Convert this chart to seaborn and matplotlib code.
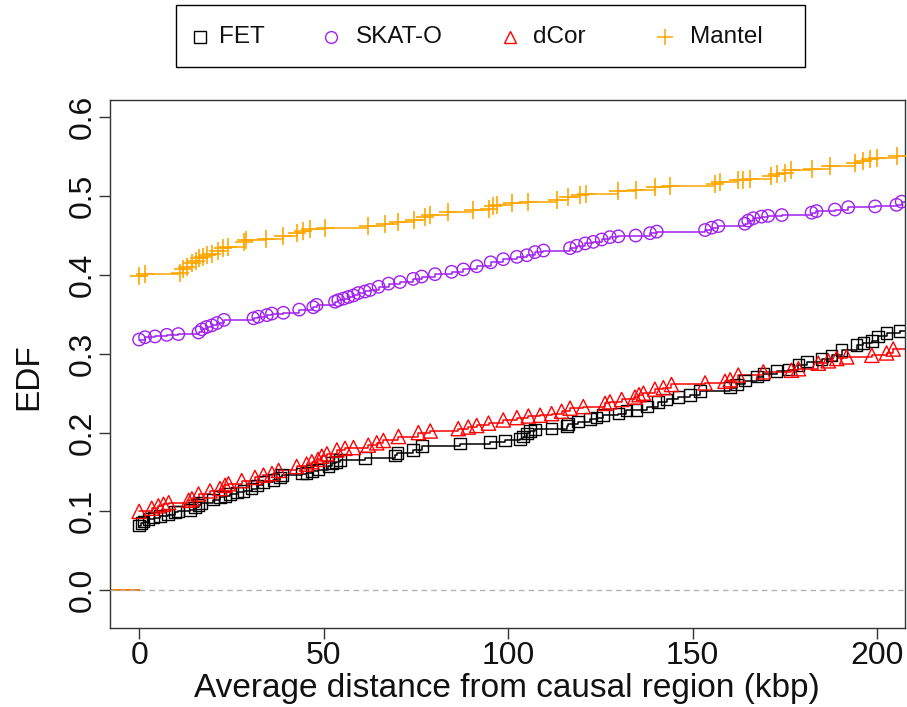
import numpy as np
import pandas as pd
import matplotlib
matplotlib.use("Agg")
import matplotlib.pyplot as plt
from matplotlib.lines import Line2D
from matplotlib.patches import Rectangle
import seaborn as sns

# ---------------- data ----------------
methods = ["FET", "SKAT-O", "dCor", "Mantel"]
colors = ["#000000", "#A020F0", "#FF0000", "#FFA500"]
markers = ["s", "o", "^", "+"]

fet_x = [0.0, 0.6, 1.2, 2.5, 3.9, 5.7, 7.9, 9.8, 10.5, 13.8, 15.2, 16.1, 16.8, 20.1, 21.9, 23.3,
         24.7, 26.5, 28.3, 30.5, 31.9, 33.7, 36.4, 38.2, 38.7, 44.1, 45.4, 46.8, 48.6, 51.3, 52.2,
         53.3, 54.5, 61.2, 69.4, 70.0, 74.3, 76.6, 87.0, 95.1, 99.2, 103.3, 104.1, 105.1, 106.0,
         107.3, 111.8, 115.9, 116.3, 119.0, 122.2, 124.0, 125.8, 129.9, 132.1, 134.8, 137.6, 140.7,
         143.0, 146.2, 149.3, 152.0, 160.2, 162.0, 164.2, 167.4, 169.2, 172.8, 176.0, 178.7, 181.0,
         185.0, 187.7, 190.4, 194.5, 196.3, 198.6, 200.3, 202.6, 206.2]
fet_y = [0.082, 0.085, 0.087, 0.090, 0.092, 0.094, 0.096, 0.099, 0.100, 0.102, 0.105, 0.108, 0.111,
         0.115, 0.118, 0.119, 0.122, 0.124, 0.126, 0.129, 0.133, 0.137, 0.140, 0.143, 0.146, 0.148,
         0.149, 0.151, 0.153, 0.157, 0.161, 0.163, 0.165, 0.168, 0.171, 0.174, 0.178, 0.183, 0.186,
         0.188, 0.190, 0.192, 0.195, 0.199, 0.202, 0.204, 0.205, 0.208, 0.211, 0.214, 0.217, 0.219,
         0.222, 0.224, 0.228, 0.229, 0.233, 0.239, 0.242, 0.245, 0.248, 0.253, 0.257, 0.261, 0.266,
         0.271, 0.274, 0.278, 0.280, 0.286, 0.290, 0.293, 0.298, 0.305, 0.311, 0.314, 0.316, 0.322,
         0.326, 0.329]

skat_x = [0.0, 1.6, 4.3, 7.5, 10.6, 16.1, 17.0, 18.3, 19.7, 21.1, 23.0, 31.0, 32.3, 34.6, 36.0, 39.1,
          43.4, 47.2, 48.1, 53.1, 54.0, 55.4, 56.7, 58.1, 59.4, 61.2, 62.6, 64.9, 67.6, 70.7, 74.3,
          76.6, 80.2, 84.7, 87.9, 91.5, 95.3, 98.7, 102.4, 105.1, 107.3, 109.6, 116.8, 118.6, 120.9,
          123.1, 125.4, 127.6, 129.9, 134.6, 138.5, 140.3, 153.4, 155.2, 157.0, 164.2, 165.1, 166.5,
          168.7, 170.5, 174.2, 182.3, 183.6, 188.6, 192.2, 199.5, 205.3, 206.7]
skat_y = [0.318, 0.321, 0.322, 0.324, 0.325, 0.327, 0.331, 0.334, 0.336, 0.339, 0.343, 0.345, 0.347,
          0.349, 0.351, 0.352, 0.356, 0.359, 0.362, 0.366, 0.368, 0.370, 0.372, 0.374, 0.377, 0.379,
          0.381, 0.385, 0.389, 0.391, 0.395, 0.398, 0.401, 0.404, 0.407, 0.411, 0.416, 0.420, 0.423,
          0.425, 0.429, 0.431, 0.434, 0.437, 0.440, 0.442, 0.445, 0.448, 0.449, 0.450, 0.453, 0.455,
          0.457, 0.460, 0.462, 0.465, 0.469, 0.472, 0.474, 0.475, 0.476, 0.479, 0.481, 0.483, 0.486,
          0.487, 0.489, 0.493]

dcor_x = [0.0, 3.4, 5.2, 6.6, 8.0, 13.4, 14.3, 16.1, 19.2, 21.9, 23.3, 24.2, 27.8, 31.4, 33.7, 36.0,
          37.8, 42.7, 45.4, 46.8, 48.5, 49.5, 50.9, 53.6, 55.8, 58.1, 62.1, 64.4, 66.2, 70.3, 75.7,
          78.9, 86.5, 89.2, 91.5, 94.7, 98.7, 102.4, 105.5, 108.7, 111.8, 114.5, 116.8, 120.4, 126.3,
          127.6, 130.8, 134.4, 135.5, 136.7, 139.8, 142.1, 144.3, 153.4, 158.8, 160.2, 162.4, 169.2,
          176.8, 178.7, 184.1, 186.8, 189.1, 191.8, 198.6, 202.6, 204.4]
dcor_y = [0.100, 0.104, 0.107, 0.109, 0.111, 0.114, 0.116, 0.122, 0.126, 0.129, 0.133, 0.135, 0.139,
          0.143, 0.146, 0.148, 0.152, 0.157, 0.160, 0.163, 0.166, 0.170, 0.173, 0.178, 0.180, 0.181,
          0.184, 0.187, 0.190, 0.195, 0.200, 0.202, 0.205, 0.207, 0.209, 0.212, 0.216, 0.219, 0.221,
          0.222, 0.224, 0.227, 0.231, 0.233, 0.237, 0.239, 0.242, 0.245, 0.248, 0.250, 0.255, 0.257,
          0.261, 0.263, 0.265, 0.267, 0.273, 0.277, 0.279, 0.281, 0.288, 0.291, 0.294, 0.296, 0.298,
          0.301, 0.306]

mantel_x = [0.0, 1.6, 11.1, 12.0, 13.1, 14.3, 15.4, 16.3, 17.4, 18.5, 19.7, 21.5, 22.8, 24.2, 28.3,
            29.0, 34.4, 39.1, 42.7, 44.4, 46.2, 50.4, 62.1, 66.7, 70.3, 74.4, 77.5, 78.9, 83.8, 90.6,
            94.7, 96.0, 97.0, 101.0, 105.5, 113.2, 116.3, 119.5, 121.0, 129.9, 134.8, 139.8, 143.9,
            156.1, 157.5, 162.4, 163.7, 165.6, 171.4, 173.0, 175.0, 176.8, 182.3, 187.3, 194.0, 196.3,
            198.1, 200.0, 205.3]
mantel_y = [0.399, 0.401, 0.403, 0.408, 0.410, 0.415, 0.418, 0.421, 0.423, 0.425, 0.427, 0.431, 0.434,
            0.436, 0.442, 0.444, 0.446, 0.449, 0.453, 0.456, 0.458, 0.460, 0.462, 0.465, 0.467, 0.470,
            0.474, 0.476, 0.480, 0.482, 0.484, 0.487, 0.489, 0.491, 0.493, 0.495, 0.499, 0.501, 0.503,
            0.506, 0.508, 0.511, 0.513, 0.516, 0.518, 0.520, 0.521, 0.522, 0.525, 0.528, 0.530, 0.533,
            0.535, 0.538, 0.542, 0.544, 0.547, 0.549, 0.551]

xs = [fet_x, skat_x, dcor_x, mantel_x]
ys = [fet_y, skat_y, dcor_y, mantel_y]

x_ticks = [0, 50, 100, 150, 200]
y_ticks = [0.0, 0.1, 0.2, 0.3, 0.4, 0.5, 0.6]
x_label = "Average distance from causal region (kbp)"
y_label = "EDF"

# ---------------- figure ----------------
sns.set_style("white")
plt.rcParams["font.family"] = ["Liberation Sans", "DejaVu Sans"]

W, H = 907, 707
fig = plt.figure(figsize=(W / 100, H / 100), dpi=100)
ax_l, ax_r, ax_t, ax_b = 110, 905, 100, 628
ax = fig.add_axes([ax_l / W, 1 - ax_b / H, (ax_r - ax_l) / W, (ax_b - ax_t) / H])

XLIM = (-7.9, 207.6)
YLIM = (-0.048, 0.622)
ax.set_xlim(*XLIM)
ax.set_ylim(*YLIM)

msizes = {"s": 70, "o": 80, "^": 105, "+": 150}

for name, col, mk, x, y in zip(methods, colors, markers, xs, ys):
    df = pd.DataFrame({"x": x, "y": y})
    # step line (R stepfun style: horizontal then vertical)
    sns.lineplot(data=df, x="x", y="y", ax=ax, color=col, linewidth=1.1,
                 drawstyle="steps-post", estimator=None, sort=False, legend=False)
    # extension to the right edge and left segment at 0
    ax.plot([x[-1], XLIM[1] + 5], [y[-1], y[-1]], color=col, linewidth=1.1)
    ax.plot([XLIM[0] - 5, x[0]], [0, 0], color=col, linewidth=1.1)
    if mk == "+":
        sns.scatterplot(data=df, x="x", y="y", ax=ax, marker=mk, s=msizes[mk],
                        color=col, edgecolor=col, linewidth=1.2, legend=False, zorder=3)
    else:
        sns.scatterplot(data=df, x="x", y="y", ax=ax, marker=mk, s=msizes[mk],
                        color=col, facecolor="none", edgecolor=col, linewidth=1.0,
                        legend=False, zorder=3)

ax.axhline(0, color="#B3B3B3", linestyle=(0, (4, 3)), linewidth=1.0, zorder=4)

ax.set_xticks(x_ticks)
ax.set_xticklabels([str(t) for t in x_ticks])
ax.set_yticks(y_ticks)
ax.set_yticklabels([f"{t:.1f}" for t in y_ticks], rotation=90, va="center")
ax.tick_params(axis="both", direction="out", length=8, width=1, color="#333333",
               labelsize=23, bottom=True, left=True, pad=1.0, labelcolor="#111111")
ax.set_xlabel(x_label, fontsize=24, color="#111111", va="center")
ax.set_ylabel(y_label, fontsize=24, color="#111111", va="center")
ax.xaxis.set_label_coords((506.5 - ax_l) / (ax_r - ax_l), -(688 - ax_b) / (ax_b - ax_t))
ax.yaxis.set_label_coords(-(ax_l - 29) / (ax_r - ax_l), 1 - (377 - ax_t) / (ax_b - ax_t))
for sp in ax.spines.values():
    sp.set_visible(True)
    sp.set_color("#333333")
    sp.set_linewidth(1.0)

# ---------------- legend box (R style, above plot) ----------------
bx0, bx1, by0, by1 = 176, 805, 5, 67
fig.add_artist(Rectangle((bx0 / W, 1 - by1 / H), (bx1 - bx0) / W, (by1 - by0) / H,
                         transform=fig.transFigure, facecolor="white",
                         edgecolor="black", linewidth=1.0))
mark_px = [200, 331, 510, 665]
text_px = [219, 356, 533, 690]
ly = 1 - 37 / H
for name, col, mk, mx, tx in zip(methods, colors, markers, mark_px, text_px):
    if mk == "+":
        h = Line2D([mx / W], [ly], marker=mk, color=col, markersize=12,
                   markeredgewidth=1.1, linestyle="none", transform=fig.transFigure)
    else:
        h = Line2D([mx / W], [ly], marker=mk, markerfacecolor="none", markeredgecolor=col,
                   markersize=8.5, markeredgewidth=1.0, linestyle="none",
                   transform=fig.transFigure)
    fig.add_artist(h)
    fig.text(tx / W, ly, name, fontsize=17.5, va="center", ha="left", color="#111111")

fig.savefig("out.png", dpi=100)
